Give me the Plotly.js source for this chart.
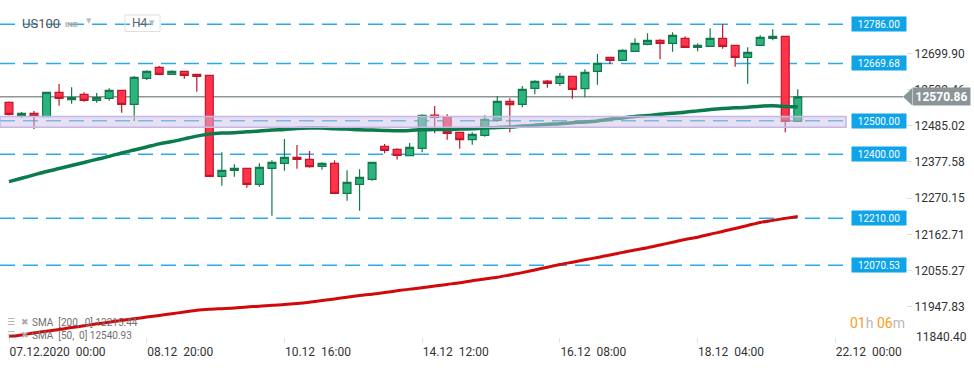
<!DOCTYPE html>
<html>
<head>
<meta charset="utf-8">
<script src="https://cdn.plot.ly/plotly-3.0.1.min.js"></script>
<style>html,body{margin:0;padding:0;background:#fff;}#chart{width:974px;height:368px;}</style>
</head>
<body>
<div id="chart"></div>
<script>
// ---- DATA (US100, H4) ----
const opens  = [12554.5,12514.7,12521.8,12511.7,12584.2,12562.2,12578.2,12560.4,12566.3,12590.1,12548.5,12625.7,12658.3,12637.6,12646.5,12637.6,
                12634.6,12334.8,12352.7,12358.6,12311.1,12358.6,12373.4,12391.2,12385.3,12364.5,12373.4,12284.4,12311.1,12325.9,12423.9,12415.0,
                12396.0,12417.9,12516.8,12510.8,12465.4,12443.5,12456.5,12501.1,12557.4,12548.5,12596.0,12617.7,12610.9,12631.6,12594.8,12646.5,
                12688.0,12679.1,12705.8,12726.6,12738.5,12729.6,12744.4,12717.7,12720.7,12744.4,12723.7,12688.0,12723.7,12744.4,12750.4,12498.1];
const highs  = [12556.8,12525.7,12528.7,12585.0,12608.8,12599.0,12584.2,12582.1,12596.0,12591.0,12632.5,12649.4,12662.2,12649.4,12647.4,12638.5,
                12635.0,12406.1,12370.5,12359.5,12373.4,12382.3,12445.6,12427.7,12409.9,12376.4,12382.3,12352.7,12355.6,12377.3,12430.7,12417.9,
                12433.7,12518.9,12543.5,12518.9,12465.4,12465.4,12515.9,12573.2,12566.3,12602.9,12620.0,12620.7,12641.4,12632.5,12652.4,12697.8,
                12688.9,12711.8,12744.4,12759.3,12741.5,12762.2,12750.4,12729.6,12774.1,12786.0,12724.5,12717.7,12753.3,12771.1,12751.0,12593.1];
const lows   = [12515.3,12507.9,12475.4,12510.0,12544.4,12550.3,12556.2,12553.3,12559.2,12523.6,12499.0,12620.7,12634.6,12637.6,12624.5,12585.9,
                12334.0,12306.9,12333.6,12301.0,12304.0,12217.9,12351.5,12357.4,12360.4,12354.4,12283.0,12262.4,12232.7,12321.8,12403.1,12384.7,
                12396.0,12406.1,12462.5,12443.5,12416.8,12428.6,12452.4,12496.9,12465.4,12539.6,12578.2,12597.8,12603.8,12565.2,12569.3,12606.7,
                12668.1,12678.0,12705.0,12723.7,12682.1,12704.7,12717.0,12705.8,12720.0,12713.5,12660.1,12609.7,12723.0,12738.5,12465.4,12497.0];
const closes = [12518.9,12521.8,12513.8,12584.2,12566.3,12568.1,12560.4,12568.1,12590.1,12548.5,12628.7,12646.5,12637.6,12646.5,12634.6,12631.6,
                12334.8,12352.7,12358.6,12311.1,12361.6,12376.4,12391.2,12385.3,12363.3,12373.4,12284.4,12317.0,12331.9,12376.4,12412.0,12396.6,
                12420.9,12515.9,12509.9,12462.5,12443.5,12459.5,12504.0,12557.4,12547.4,12593.1,12616.8,12610.9,12631.6,12593.1,12643.5,12670.2,
                12679.1,12708.8,12729.6,12738.5,12729.6,12753.3,12717.7,12723.7,12744.4,12720.7,12688.0,12702.9,12747.4,12750.4,12498.1,12570.86];
const sma50  = [12319,12329,12339,12349,12358,12367,12376,12385,12394,12404,12413,12422,12431,12438,12446,12454,
                12460,12463,12464,12467,12469,12472,12474,12477,12478,12478,12476,12475,12473,12472,12471,12470,
                12471,12473,12474,12474,12475,12476,12478,12480,12481,12484,12486,12489,12491,12494,12496,12499,
                12504,12508,12512,12515,12519,12522,12525,12529,12533,12536,12538,12540,12543,12544,12542,12540.93];
const sma200 = [11859,11864,11870,11875,11880,11886,11891,11897,11902,11907,11912,11917,11922,11927,11932,11937,
                11940,11942,11944,11947,11949,11952,11954,11957,11961,11966,11971,11976,11981,11985,11990,11995,
                12000,12004,12009,12014,12019,12025,12030,12035,12042,12049,12057,12065,12073,12080,12087,12094,
                12101,12109,12116,12123,12131,12139,12147,12154,12163,12171,12180,12189,12198,12204,12210,12215.44];
const xTickLabels = ["07.12.2020\u00a0\u00a000:00","08.12\u00a0\u00a020:00","10.12\u00a0\u00a016:00","14.12\u00a0\u00a012:00",
                     "16.12\u00a0\u00a008:00","18.12\u00a0\u00a004:00","22.12\u00a0\u00a000:00"];
const barsPerTick = 11;
const yTickValues = [12699.90,12592.46,12485.02,12377.58,12270.15,12162.71,12055.27,11947.83];
const yBottomTick = 11840.40;
const levels = [12786.00,12669.68,12500.00,12400.00,12210.00,12070.53];
const zoneLevels = [12480.3,12512.3];
const lastPrice = 12570.86;

// ---- geometry ----
const PW = 906, PH = 343;              // plot area in px
const pxPerBar = 12.52, firstBarPx = 9;
const pricePerPx = 2.968, topPrice = 12858.1;
const xr = [-firstBarPx/pxPerBar, (PW-firstBarPx)/pxPerBar];
const yr = [topPrice - PH*pricePerPx, topPrice];
const px = v => v/PW;                  // px -> paper x
const py = v => 1 - v/PH;              // px -> paper y
const FONT = 'Roboto, Arial, sans-serif';

const xIdx = opens.map((_, i) => i);

const traces = [
  {type:'candlestick', x:xIdx, open:opens, high:highs, low:lows, close:closes,
   increasing:{line:{color:'#13794d', width:1.2}, fillcolor:'#2bb47d'},
   decreasing:{line:{color:'#c0172b', width:1.2}, fillcolor:'#ff3349'},
   whiskerwidth:0, hoverinfo:'skip', showlegend:false},
  {type:'scatter', mode:'lines', x:xIdx, y:sma200, line:{color:'#d00a0a', width:3, shape:'spline', smoothing:0.8}, hoverinfo:'skip'},
  {type:'scatter', mode:'lines', x:xIdx, y:sma50, line:{color:'#0b7a4e', width:3.5, shape:'spline', smoothing:0.8}, hoverinfo:'skip'}
];

const shapes = [];
levels.forEach(l => shapes.push({type:'line', layer:'below', xref:'paper', yref:'y', x0:0, x1:px(845), y0:l, y1:l,
  line:{color:'#2aaaea', width:1.5, dash:'15px,8px'}}));
shapes.push({type:'line', layer:'below', xref:'paper', yref:'y', x0:0, x1:px(903), y0:lastPrice, y1:lastPrice,
  line:{color:'#8c9598', width:1.5}});
shapes.push({type:'rect', layer:'above', xref:'paper', yref:'y', x0:0, x1:px(846), y0:zoneLevels[0], y1:zoneLevels[1],
  fillcolor:'rgba(205,193,229,0.5)', line:{color:'#c5b8e2', width:1.5}});
// price tag arrow
shapes.push({type:'path', layer:'above', xref:'paper', yref:'y',
  path:`M ${px(903)},${lastPrice} L ${px(912)},${lastPrice+8.5*pricePerPx} L ${px(912)},${lastPrice-8.5*pricePerPx} Z`,
  fillcolor:'#8b9598', line:{width:0}});
// H4 box
shapes.push({type:'rect', layer:'above', xref:'paper', yref:'paper', x0:px(125), x1:px(160), y0:py(31.5), y1:py(15),
  line:{color:'#e0e0e0', width:1}});

const annotations = [];
levels.forEach(l => annotations.push({xref:'paper', yref:'y', x:px(851), y:l, xanchor:'left', yanchor:'middle',
  text:l.toFixed(2), showarrow:false, font:{family:FONT, size:10, color:'#ffffff'}, bgcolor:'#0fa3e8',
  width:50, height:10, borderpad:2, align:'center'}));
annotations.push({xref:'paper', yref:'y', x:px(912), y:lastPrice, xanchor:'left', yanchor:'middle',
  text:'<b>'+lastPrice.toFixed(2)+'</b>', showarrow:false, font:{family:FONT, size:12, color:'#ffffff'},
  bgcolor:'#8b9598', width:53, height:13, borderpad:2, align:'center'});
annotations.push({xref:'paper', yref:'paper', x:1, xshift:8, y:py(337), xanchor:'left', yanchor:'middle',
  text:yBottomTick.toFixed(2), showarrow:false, font:{family:FONT, size:12, color:'#333'}});
// header
annotations.push({xref:'paper', yref:'paper', x:px(20), y:py(23.5), xanchor:'left', yanchor:'middle',
  text:'US100', showarrow:false, font:{family:FONT, size:13, color:'#555'}});
annotations.push({xref:'paper', yref:'paper', x:px(63), y:py(24), xanchor:'left', yanchor:'middle',
  text:'<b>IND</b>', showarrow:false, font:{family:FONT, size:8, color:'#aaa'}});
annotations.push({xref:'paper', yref:'paper', x:px(84), y:py(21), xanchor:'left', yanchor:'middle',
  text:'▼', showarrow:false, font:{family:'DejaVu Sans', size:7, color:'#bbb'}});
annotations.push({xref:'paper', yref:'paper', x:px(130), y:py(23.5), xanchor:'left', yanchor:'middle',
  text:'H4', showarrow:false, font:{family:FONT, size:12, color:'#666'}});
annotations.push({xref:'paper', yref:'paper', x:px(147), y:py(23), xanchor:'left', yanchor:'middle',
  text:'▼', showarrow:false, font:{family:'DejaVu Sans', size:7, color:'#bbb'}});
// indicator legend
[['SMA\u00a0\u00a0[200,\u00a0\u00a00]\u00a012215.44', 322],['SMA\u00a0\u00a0[50,\u00a0\u00a00]\u00a012540.93', 335]].forEach(([t, y]) => {
  annotations.push({xref:'paper', yref:'paper', x:px(5), y:py(y), xanchor:'left', yanchor:'middle',
    text:'☰', showarrow:false, font:{family:'DejaVu Sans', size:9, color:'#aaaaaa'}});
  annotations.push({xref:'paper', yref:'paper', x:px(19), y:py(y), xanchor:'left', yanchor:'middle',
    text:'✖', showarrow:false, font:{family:'DejaVu Sans', size:9, color:'#aaaaaa'}});
  annotations.push({xref:'paper', yref:'paper', x:px(30), y:py(y), xanchor:'left', yanchor:'middle',
    text:t, showarrow:false, font:{family:FONT, size:10, color:'#707070'}});
});
// countdown
annotations.push({xref:'paper', yref:'paper', x:px(877), y:py(323), xanchor:'center', yanchor:'middle',
  text:'<span style="color:#f5a020">01</span><span style="color:#b8b8b8">h</span> <span style="color:#f5a020">06</span><span style="color:#b8b8b8">m</span>',
  showarrow:false, font:{family:FONT, size:14, color:'#f5a020'}});

const layout = {
  width:974, height:368,
  margin:{l:0, r:974-PW, t:0, b:368-PH},
  paper_bgcolor:'#ffffff', plot_bgcolor:'#ffffff',
  showlegend:false, boxgap:0.1,
  font:{family:FONT, color:'#333'},
  xaxis:{type:'linear', range:xr, showgrid:false, zeroline:false, showline:false,
    tickmode:'array', tickvals:xTickLabels.map((_, k) => k*barsPerTick), ticktext:xTickLabels,
    ticks:'inside', ticklen:5, tickcolor:'#e2e2e2', ticklabelposition:'outside right',
    tickfont:{family:FONT, size:12, color:'#333'}, rangeslider:{visible:false}, fixedrange:true},
  yaxis:{side:'right', range:yr, showgrid:false, zeroline:false, showline:false,
    tickmode:'array', tickvals:yTickValues, ticktext:yTickValues.map(v => v.toFixed(2)),
    ticks:'outside', ticklen:5, tickcolor:'#dddddd',
    tickfont:{family:FONT, size:12, color:'#333'}, fixedrange:true},
  shapes:shapes, annotations:annotations
};

Plotly.newPlot('chart', traces, layout, {displayModeBar:false, staticPlot:true});
</script>
</body>
</html>
